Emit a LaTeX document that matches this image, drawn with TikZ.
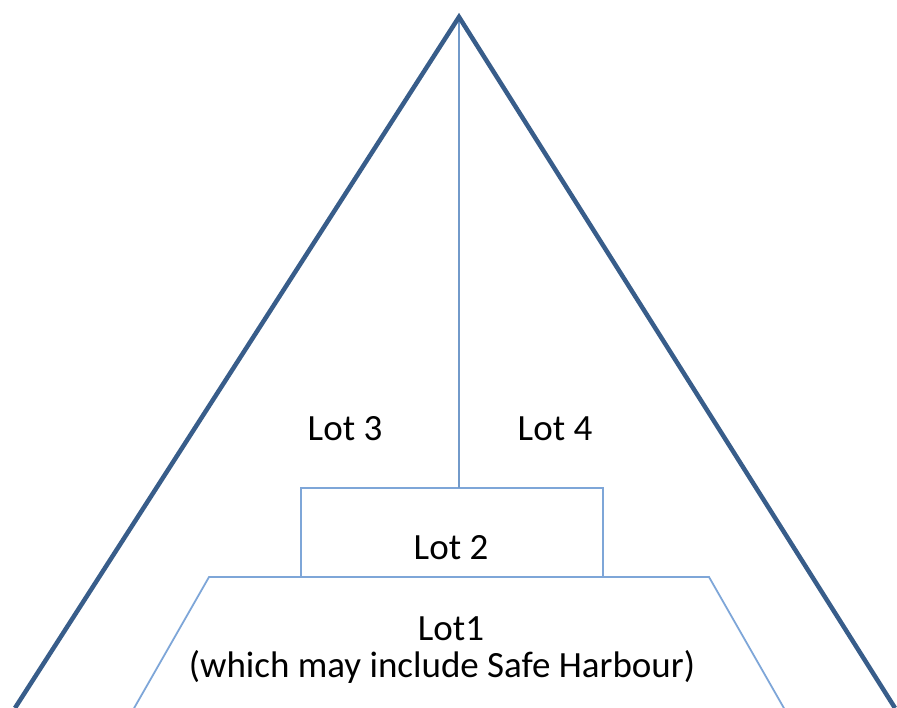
\documentclass[tikz,border=0pt]{standalone}
\usepackage{fontspec}
\setmainfont{Carlito}
\definecolor{darkblue}{HTML}{385D8A}
\definecolor{midblue}{HTML}{4F81BD}
\definecolor{lightblue}{HTML}{7EA6D8}
\begin{document}
\begin{tikzpicture}[x=1pt,y=-1pt,
  thick/.style={draw=darkblue,line width=4.5pt,line join=miter},
  thin/.style={draw=lightblue,line width=1.8pt},
  lbl/.style={anchor=base,inner sep=0pt,font=\fontsize{37}{44}\selectfont,text=black}]
\useasboundingbox (0,0) rectangle (897,708);
\coordinate (apex) at (459,17);
\coordinate (bl) at (15,708);
\coordinate (br) at (895,708);
\coordinate (vb) at (459,488);
% trapezoid
\draw[thin] (133,710) -- (209,577) -- (709,577) -- (785,710);
% rectangle
\draw[thin] (301,577) -- (301,488) -- (603,488) -- (603,577);
% vertical line
\draw[draw=midblue!80!white,line width=1.8pt] (apex) -- (vb);
% triangle
\draw[thick] (bl) -- (apex) -- (br);
\node[lbl] (l3) at (345,440) {Lot 3};
\node[lbl] (l4) at (555,440) {Lot 4};
\node[lbl] (l2) at (451,559) {Lot 2};
\node[lbl] (l1) at (451,640) {Lot1};
\node[lbl] (l1b) at (442,677) {(which may include Safe Harbour)};
\end{tikzpicture}
\end{document}
